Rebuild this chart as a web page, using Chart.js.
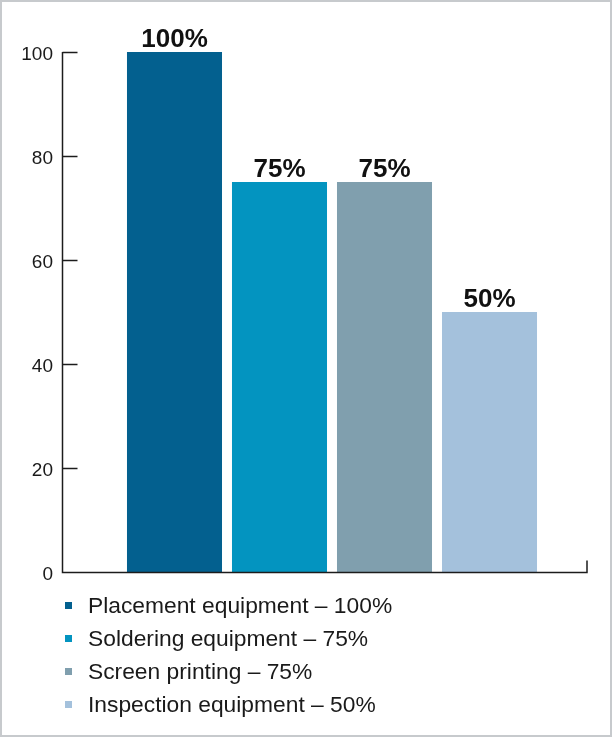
<!DOCTYPE html>
<html>
<head>
<meta charset="utf-8">
<script src="https://cdn.jsdelivr.net/npm/chart.js@4/dist/chart.umd.min.js"></script>
<style>
  html, body { margin: 0; padding: 0; background: #fff; }
  #wrap { position: relative; width: 612px; height: 737px; overflow: hidden; background: #fff; }
  #c { position: absolute; left: 0; top: 0; }
  #frame { position: absolute; left: 0; top: 0; width: 612px; height: 737px; box-sizing: border-box; border: 2px solid #c7cacd; pointer-events: none; }
  #legend { position: absolute; left: 65px; top: 589px; font-family: "Liberation Sans", Arial, sans-serif; font-size: 22.8px; color: #1a1a1a; }
  .row { display: flex; align-items: center; height: 33px; white-space: nowrap; }
  .sw { width: 7px; height: 7px; margin-right: 16px; flex: none; }
</style>
</head>
<body>
<div id="wrap">
  <canvas id="c" width="612" height="600"></canvas>
  <div id="legend"></div>
  <div id="frame"></div>
</div>
<script>
const categories = ['Placement equipment', 'Soldering equipment', 'Screen printing', 'Inspection equipment'];
const values = [100, 75, 75, 50];
const colors = ['#03608f', '#0394c0', '#809fae', '#a4c1dc'];
const yTicks = [0, 20, 40, 60, 80, 100];

const FONT = '"Liberation Sans", Arial, sans-serif';

const axesPlugin = {
  id: 'customAxes',
  afterDatasetsDraw(chart) {
    const ctx = chart.ctx, y = chart.scales.y, a = chart.chartArea;
    const left = Math.round(a.left) + 0.5;
    const bottom = Math.round(y.getPixelForValue(0)) + 0.5;
    const top = y.getPixelForValue(yTicks[yTicks.length - 1]);
    const axisRight = a.right - 15;
    ctx.save();
    ctx.strokeStyle = '#1c1c1c';
    ctx.lineWidth = 1.5;
    ctx.beginPath();
    ctx.moveTo(left, top);
    ctx.lineTo(left, bottom);
    ctx.lineTo(axisRight, bottom);
    ctx.lineTo(axisRight, bottom - 12);
    ctx.stroke();
    ctx.beginPath();
    yTicks.forEach(v => {
      if (v === 0) return;
      const py = Math.round(y.getPixelForValue(v)) + 0.5;
      ctx.moveTo(left, py);
      ctx.lineTo(left + 15, py);
    });
    ctx.stroke();
    // value labels
    ctx.fillStyle = '#111';
    ctx.font = 'bold 26px ' + FONT;
    ctx.textAlign = 'center';
    ctx.textBaseline = 'alphabetic';
    chart.data.datasets.forEach((ds, i) => {
      const bar = chart.getDatasetMeta(i).data[0];
      ctx.fillText(ds.data[0] + '%', bar.x, bar.y - 5);
    });
    ctx.restore();
  }
};

new Chart(document.getElementById('c'), {
  type: 'bar',
  data: {
    labels: [''],
    datasets: categories.map((c, i) => ({
      label: c,
      data: [values[i]],
      backgroundColor: colors[i],
      borderWidth: 0,
      barPercentage: 0.905,
      categoryPercentage: 0.7778
    }))
  },
  options: {
    responsive: false,
    animation: false,
    layout: { padding: { top: 52, right: 10, bottom: 28, left: 0 } },
    plugins: { legend: { display: false }, tooltip: { enabled: false } },
    scales: {
      x: { display: false },
      y: {
        min: 0, max: 100,
        afterFit(s) { s.width = 62; },
        afterBuildTicks(s) { s.ticks = yTicks.map(v => ({ value: v })); },
        grid: { display: false, drawTicks: false },
        border: { display: false },
        ticks: { padding: 9, labelOffset: 3, color: '#1a1a1a', font: { family: FONT, size: 19 } }
      }
    }
  },
  plugins: [axesPlugin]
});

const legend = document.getElementById('legend');
categories.forEach((c, i) => {
  const row = document.createElement('div');
  row.className = 'row';
  const sw = document.createElement('span');
  sw.className = 'sw';
  sw.style.background = colors[i];
  const t = document.createElement('span');
  t.textContent = c + ' \u2013 ' + values[i] + '%';
  row.appendChild(sw);
  row.appendChild(t);
  legend.appendChild(row);
});
</script>
</body>
</html>
